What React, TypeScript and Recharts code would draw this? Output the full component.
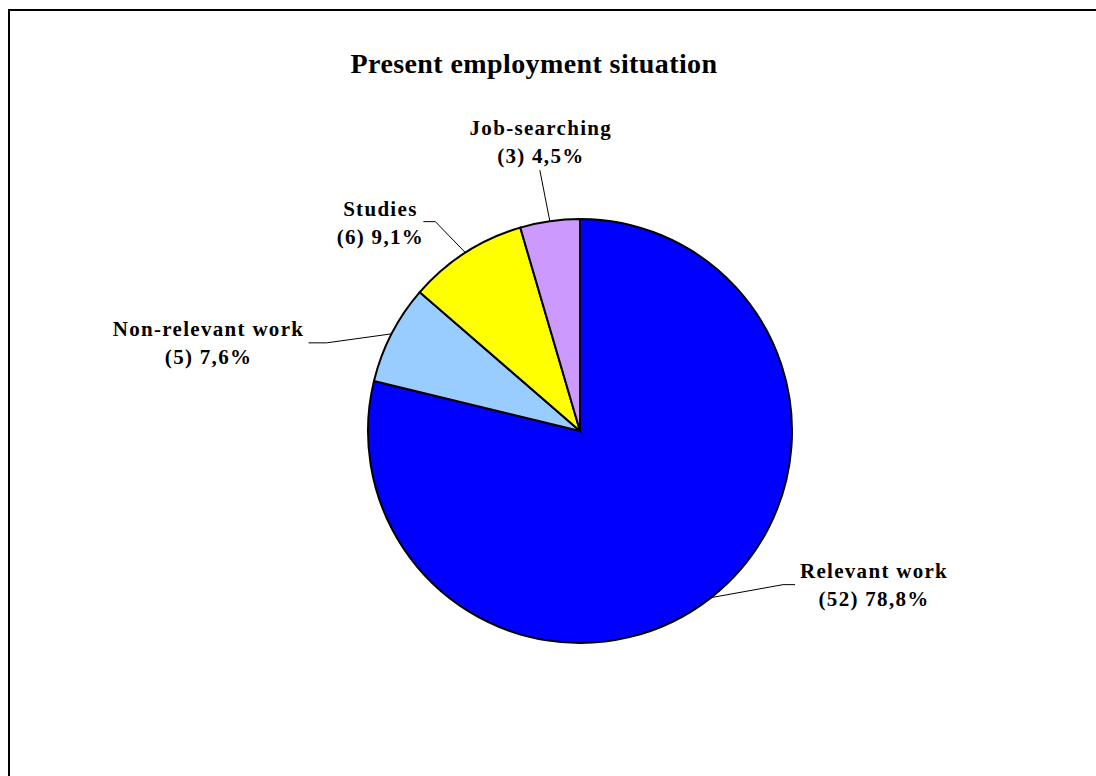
import React from "react"
import { PieChart, Pie, Cell } from "recharts"

// chart data
const categories = ["Relevant work", "Non-relevant work", "Studies", "Job-searching"]
const counts = [52, 5, 6, 3]
const colors = ["#0000FF", "#99CCFF", "#FFFF00", "#CC99FF"]

// label placement, offsets from the point where the leader touches the pie
const labelLayout = [
  { line: [[72, -13], [84, -13]], tx: 163, ty: -20 },
  { line: [[-65, 9], [-83, 9]], tx: -183, ty: 2 },
  { line: [[-30, -31], [-42, -31]], tx: -85, ty: -37 },
  { line: [[-10, -51]], tx: -9, ty: -86 },
]

const total = counts.reduce((a, b) => a + b, 0)
const data = categories.map((name, i) => ({ name, value: counts[i] }))

const RADIAN = Math.PI / 180

const renderLabel = (props: any) => {
  const { cx, cy, midAngle, outerRadius, index, value, name } = props
  const x0 = cx + outerRadius * Math.cos(-midAngle * RADIAN)
  const y0 = cy + outerRadius * Math.sin(-midAngle * RADIAN)
  const lay = labelLayout[index]
  const pts = [[x0, y0], ...lay.line.map(([dx, dy]) => [x0 + dx, y0 + dy])]
  const pct = ((value / total) * 100).toFixed(1).replace(".", ",")
  const tx = x0 + lay.tx
  const ty = y0 + lay.ty
  return (
    <g key={`lbl-${index}`}>
      <polyline points={pts.map((p) => p.join(",")).join(" ")} fill="none" stroke="#000" strokeWidth={1} />
      <text
        x={tx}
        y={ty}
        textAnchor="middle"
        fontFamily="'Liberation Serif', 'Times New Roman', serif"
        fontWeight="bold"
        fontSize={21}
        letterSpacing={1.3}
        fill="#000"
      >
        <tspan x={tx} y={ty}>{name}</tspan>
        <tspan x={tx} y={ty + 28}>{`(${value}) ${pct}%`}</tspan>
      </text>
    </g>
  )
}

export default function App() {
  return (
    <div style={{ position: "fixed", left: 0, top: 0, width: 1096, height: 776, overflow: "hidden", background: "#fff" }}>
      {/* chart frame: right and bottom edges fall outside the picture */}
      <div
        style={{
          position: "absolute",
          left: 8,
          top: 9,
          width: 1200,
          height: 900,
          borderLeft: "2px solid #000",
          borderTop: "2px solid #000",
        }}
      />
      <div
        style={{
          position: "absolute",
          left: 0,
          top: 49,
          width: 1068,
          textAlign: "center",
          fontFamily: "'Liberation Serif', 'Times New Roman', serif",
          fontWeight: "bold",
          fontSize: 28,
          letterSpacing: 0.4,
          lineHeight: "30px",
        }}
      >
        Present employment situation
      </div>
      <div style={{ position: "absolute", left: 0, top: 0 }}>
        <PieChart width={1096} height={776}>
          <Pie
            data={data}
            dataKey="value"
            nameKey="name"
            cx={575}
            cy={426}
            outerRadius={212}
            startAngle={90}
            endAngle={-270}
            stroke="#000"
            strokeWidth={2}
            label={renderLabel}
            labelLine={false}
            isAnimationActive={false}
          >
            {data.map((d, i) => (
              <Cell key={d.name} fill={colors[i]} />
            ))}
          </Pie>
        </PieChart>
      </div>
    </div>
  )
}
